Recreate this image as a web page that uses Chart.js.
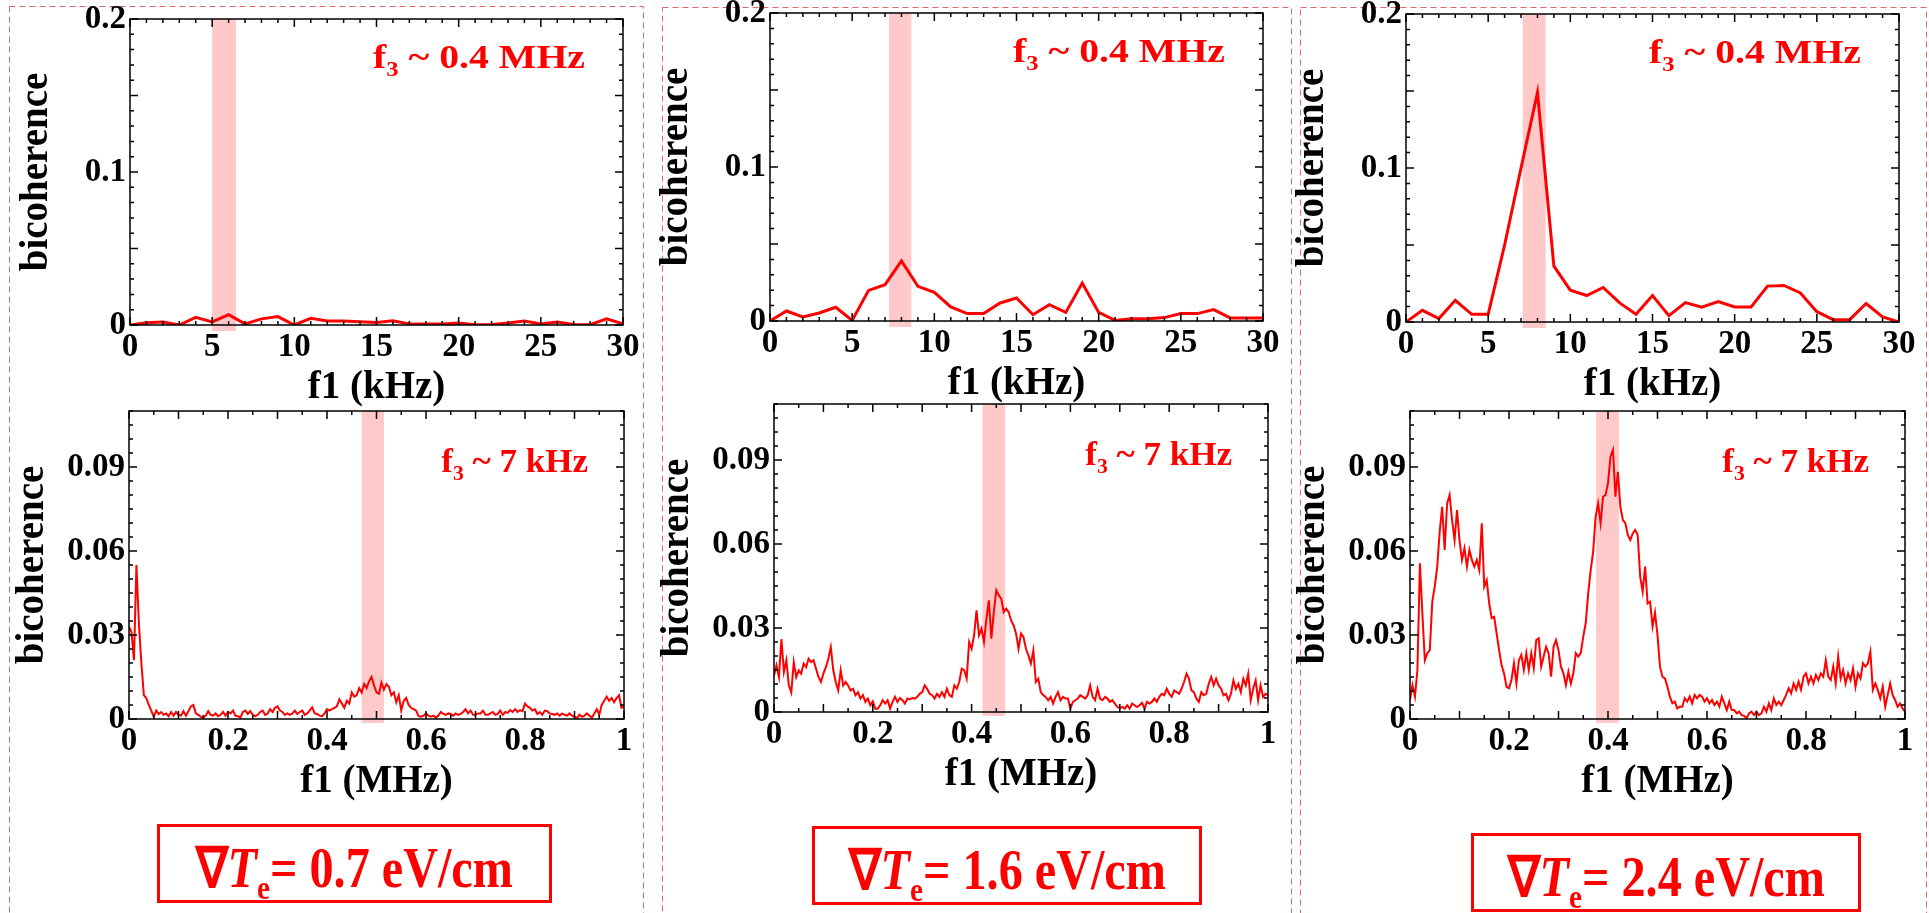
<!DOCTYPE html>
<html>
<head>
<meta charset="utf-8">
<script src="https://cdn.jsdelivr.net/npm/chart.js@4.4.1/dist/chart.umd.min.js"></script>
<style>
  body { margin: 0; background: #fff; width: 1929px; height: 913px; overflow: hidden; position: relative; font-family: "Liberation Serif", serif; }
  canvas.panel { position: absolute; }
  #frames { position: absolute; left: 0; top: 0; }
  .grad { position: absolute; box-sizing: border-box; border: 3px solid #f00; color: #f00; font-weight: bold; font-size: 56px;
          display: flex; align-items: center; justify-content: center; white-space: nowrap; padding-top: 8px; }
  .grad span { display: inline-block; transform: scaleX(0.86); line-height: 1; }
  .grad sub { font-size: 34px; vertical-align: baseline; position: relative; top: 12px; }
</style>
</head>
<body>
<canvas id="frames" width="1929" height="913"></canvas>
<script>
// f1 axes
const fKHz = [0, 1, 2, 3, 4, 5, 6, 7, 8, 9, 10, 11, 12, 13, 14, 15, 16, 17, 18, 19, 20, 21, 22, 23, 24, 25, 26, 27, 28, 29, 30];
const fMHz = Array.from({ length: 201 }, (_, i) => Math.round(i * 5) / 1000);

// bicoherence at f3 ~ 0.4 MHz
const b07Low = [0, 0.0015, 0.002, 0, 0.005, 0.002, 0.0068, 0.0007, 0.004, 0.0055, 0, 0.0044, 0.0026, 0.0026, 0.0022, 0.0017,
  0.0028, 0.0007, 0.0007, 0.0007, 0.0013, 0.0002, 0.0004, 0.0013, 0.0026, 0.0007, 0.002, 0.0004, 0.0002, 0.0041, 0.0007];
const b16Low = [0, 0.0065, 0.0026, 0.0052, 0.0089, 0.0004, 0.0199, 0.0236, 0.039, 0.0225, 0.0186, 0.0091, 0.0048, 0.0048, 0.0117, 0.0149,
  0.0041, 0.0106, 0.0056, 0.0247, 0.0056, 0.0004, 0.0015, 0.0015, 0.0022, 0.0048, 0.0048, 0.0074, 0.002, 0.002, 0.002];
const b24Low = [0, 0.0076, 0.0022, 0.0141, 0.005, 0.005, 0.05, 0.1, 0.149, 0.0363, 0.0207, 0.0172, 0.0224, 0.0124, 0.005, 0.0172,
  0.0041, 0.0126, 0.0096, 0.0133, 0.0098, 0.0098, 0.0233, 0.0237, 0.0189, 0.0067, 0.0015, 0.0015, 0.012, 0.0033, 0];

// bicoherence at f3 ~ 7 kHz (one row = 0.05 MHz)
const b07High = [
  0.033, 0.031, 0.021, 0.055, 0.034, 0.02, 0.0085, 0.0075, 0.005, 0.003,
  0.0008, 0.003, 0.0018, 0.0025, 0.0015, 0.002, 0.001, 0.0025, 0.0012, 0.0025,
  0.0015, 0.0012, 0.0028, 0.0012, 0.0028, 0.0045, 0.005, 0.002, 0.0015, 0.0008,
  0.0005, 0.0012, 0.0028, 0.0015, 0.0012, 0.002, 0.001, 0.0015, 0.0025, 0.0012,
  0.0025, 0.002, 0.003, 0.0012, 0.001, 0.0005, 0.0025, 0.003, 0.0018, 0.0028,
  0.0015, 0.001, 0.0015, 0.0025, 0.003, 0.0015, 0.002, 0.0035, 0.0025, 0.004,
  0.0045, 0.003, 0.0025, 0.0015, 0.002, 0.0015, 0.002, 0.003, 0.0018, 0.0025,
  0.003, 0.0015, 0.002, 0.003, 0.0042, 0.002, 0.0018, 0.0012, 0.001, 0.002,
  0.0035, 0.003, 0.0035, 0.004, 0.0045, 0.007, 0.0055, 0.004, 0.0065, 0.0055,
  0.0095, 0.008, 0.0085, 0.011, 0.0095, 0.0125, 0.011, 0.0135, 0.015, 0.012,
  0.0095, 0.009, 0.013, 0.0105, 0.0125, 0.0115, 0.0085, 0.0095, 0.006, 0.0085,
  0.003, 0.0065, 0.0075, 0.005, 0.004, 0.0035, 0.003, 0.001, 0.0008, 0.0012,
  0.002, 0.0012, 0.0008, 0.0012, 0.0005, 0.0012, 0.0025, 0.0018, 0.0015, 0.002,
  0.0018, 0.0012, 0.002, 0.0015, 0.0018, 0.0025, 0.0035, 0.002, 0.003, 0.0015,
  0.0015, 0.002, 0.002, 0.003, 0.0015, 0.0015, 0.002, 0.0025, 0.0015, 0.0018,
  0.003, 0.0015, 0.0025, 0.0022, 0.0032, 0.0025, 0.0035, 0.0025, 0.0032, 0.0028,
  0.0055, 0.0045, 0.004, 0.003, 0.0035, 0.0018, 0.0025, 0.0015, 0.003, 0.0028,
  0.002, 0.0018, 0.0015, 0.002, 0.0012, 0.002, 0.0015, 0.0012, 0.002, 0.0012,
  0.0008, 0.0003, 0.0015, 0.0008, 0.0012, 0.002, 0.0012, 0.0005, 0.002, 0.0035,
  0.0015, 0.005, 0.0065, 0.008, 0.0065, 0.0075, 0.006, 0.0075, 0.0085, 0.004,
  0.0045];
const b16High = [
  0.013, 0.0167, 0.0125, 0.026, 0.0143, 0.0185, 0.0095, 0.007, 0.0178, 0.0125,
  0.0149, 0.0137, 0.0173, 0.016, 0.019, 0.0178, 0.0185, 0.0155, 0.0125, 0.0107,
  0.0137, 0.016, 0.019, 0.0232, 0.0149, 0.0107, 0.0077, 0.0149, 0.0095, 0.0107,
  0.0095, 0.0077, 0.0083, 0.006, 0.0071, 0.0048, 0.006, 0.0036, 0.0048, 0.0024,
  0.0038, 0.0012, 0.0012, 0.0024, 0.0042, 0.003, 0.0042, 0.0012, 0.0036, 0.0054,
  0.0036, 0.005, 0.0042, 0.003, 0.0048, 0.0045, 0.005, 0.0048, 0.0054, 0.0065,
  0.0071, 0.0095, 0.0083, 0.0065, 0.006, 0.0048, 0.0065, 0.0054, 0.0071, 0.0054,
  0.0083, 0.006, 0.0054, 0.0095, 0.0083, 0.0107, 0.0155, 0.0149, 0.0119, 0.025,
  0.0226, 0.0274, 0.0363, 0.0274, 0.0298, 0.025, 0.0333, 0.0399, 0.0262, 0.0357,
  0.0435, 0.0417, 0.0405, 0.0357, 0.0369, 0.0357, 0.0327, 0.031, 0.028, 0.0226,
  0.028, 0.0268, 0.0226, 0.0202, 0.0173, 0.022, 0.0107, 0.0119, 0.0071, 0.006,
  0.0054, 0.0042, 0.0054, 0.003, 0.0054, 0.0071, 0.0042, 0.0054, 0.0048, 0.0048,
  0.0012, 0.0036, 0.0042, 0.0048, 0.006, 0.0054, 0.0048, 0.006, 0.0095, 0.0054,
  0.0042, 0.0083, 0.0048, 0.0042, 0.0054, 0.0048, 0.0036, 0.0042, 0.003, 0.0018,
  0.0014, 0.0018, 0.0012, 0.0024, 0.0012, 0.003, 0.0024, 0.0018, 0.0024, 0.0033,
  0.0012, 0.0036, 0.003, 0.0036, 0.0048, 0.0036, 0.0054, 0.0065, 0.006, 0.0083,
  0.0065, 0.0054, 0.0077, 0.0071, 0.0065, 0.0083, 0.0107, 0.0137, 0.0119, 0.0077,
  0.0071, 0.0048, 0.0036, 0.0071, 0.006, 0.0065, 0.0101, 0.0125, 0.0095, 0.0119,
  0.0095, 0.0083, 0.006, 0.0065, 0.0042, 0.0065, 0.0113, 0.0083, 0.0101, 0.0071,
  0.0119, 0.0095, 0.0137, 0.0042, 0.0083, 0.0113, 0.0042, 0.0095, 0.0054, 0.0065,
  0.006];
const b24High = [
  0.0068, 0.0121, 0.008, 0.0175, 0.0556, 0.0377, 0.021, 0.0235, 0.0246, 0.0419,
  0.0473, 0.0544, 0.0669, 0.0758, 0.0604, 0.077, 0.08, 0.0711, 0.0639, 0.0746,
  0.0639, 0.0568, 0.061, 0.0544, 0.0604, 0.0568, 0.0544, 0.0568, 0.0532, 0.0699,
  0.0473, 0.0496, 0.0413, 0.036, 0.0365, 0.0306, 0.0246, 0.0193, 0.0163, 0.0115,
  0.011, 0.0139, 0.0199, 0.0127, 0.021, 0.0229, 0.0175, 0.0235, 0.0175, 0.0235,
  0.0181, 0.0282, 0.0288, 0.0187, 0.0223, 0.0258, 0.0235, 0.0151, 0.0258, 0.0282,
  0.0246, 0.0187, 0.0163, 0.0121, 0.0169, 0.0127, 0.0163, 0.0235, 0.0223, 0.0235,
  0.0294, 0.0342, 0.0449, 0.0532, 0.0598, 0.0723, 0.077, 0.0699, 0.0794, 0.08,
  0.0842, 0.0937, 0.0961, 0.0794, 0.0883, 0.0758, 0.0711, 0.0699, 0.0657, 0.0639,
  0.0663, 0.0675, 0.0657, 0.0508, 0.0455, 0.0544, 0.0413, 0.0419, 0.033, 0.038,
  0.03, 0.0187, 0.0151, 0.0145, 0.0115, 0.008, 0.0056, 0.0062, 0.0038, 0.0044,
  0.0044, 0.0074, 0.0062, 0.008, 0.0056, 0.0086, 0.0074, 0.0086, 0.008, 0.0062,
  0.0074, 0.0056, 0.0068, 0.005, 0.0062, 0.0044, 0.008, 0.0056, 0.0032, 0.0062,
  0.0032, 0.0032, 0.002, 0.0026, 0.0014, 0.0011, 0.0002, 0.002, 0.0026, 0.0014,
  0.0026, 0.0014, 0.002, 0.0044, 0.0026, 0.0056, 0.0032, 0.0074, 0.005, 0.0062,
  0.005, 0.0068, 0.0086, 0.011, 0.0092, 0.0127, 0.0104, 0.0133, 0.0104, 0.0151,
  0.0163, 0.0127, 0.0151, 0.0127, 0.0157, 0.0139, 0.0163, 0.0151, 0.021, 0.0151,
  0.0139, 0.0187, 0.0127, 0.0223, 0.0145, 0.0175, 0.0127, 0.0163, 0.0139, 0.0181,
  0.0115, 0.0163, 0.0145, 0.0199, 0.0187, 0.0199, 0.024, 0.0104, 0.0127, 0.0104,
  0.0074, 0.0115, 0.0044, 0.0086, 0.0127, 0.0086, 0.0068, 0.0044, 0.0056, 0.0038,
  0.0026];

// shaded f3 windows
const bandLow = [[5.0, 6.45], [7.25, 8.6], [7.1, 8.5]];
const bandHigh = [[0.47, 0.515], [0.422, 0.468], [0.376, 0.422]];
// temperature gradient of each column (eV/cm)
const gradTe = ['0.7', '1.6', '2.4'];

const SERIF = '"Liberation Serif", "Times New Roman", serif';

function isMultiple(v, step) {
  const r = v / step;
  return Math.abs(r - Math.round(r)) < 1e-6;
}

// plot box with inward ticks on all four sides, the f3 band and the f3 label
const framePlugin = {
  id: 'frame',
  beforeDatasetsDraw(chart, args, o) {
    const { ctx, chartArea: a, scales: { x } } = chart;
    const x0 = x.getPixelForValue(o.band[0]);
    const x1 = x.getPixelForValue(o.band[1]);
    ctx.save();
    ctx.fillStyle = '#ffc9c9';
    ctx.fillRect(x0, a.top, x1 - x0, a.bottom - a.top + o.bandDrop);
    ctx.restore();
  },
  afterDatasetsDraw(chart, args, o) {
    const { ctx, chartArea: a, scales: { x, y } } = chart;
    ctx.save();
    ctx.strokeStyle = '#000';
    ctx.lineWidth = 1.5;
    ctx.strokeRect(a.left, a.top, a.right - a.left, a.bottom - a.top);
    ctx.beginPath();
    const nx = Math.round((x.max - x.min) / o.xMinor);
    for (let i = 0; i <= nx; i++) {
      const v = x.min + i * o.xMinor;
      const px = x.getPixelForValue(v);
      const len = isMultiple(v, o.xMajor) ? 8 : 4;
      ctx.moveTo(px, a.bottom); ctx.lineTo(px, a.bottom - len);
      ctx.moveTo(px, a.top); ctx.lineTo(px, a.top + len);
    }
    const ny = Math.round((y.max - y.min) / o.yMinor);
    for (let i = 0; i <= ny; i++) {
      const v = y.min + i * o.yMinor;
      const py = y.getPixelForValue(v);
      const len = isMultiple(v, o.yMajor) ? 8 : 4;
      ctx.moveTo(a.left, py); ctx.lineTo(a.left + len, py);
      ctx.moveTo(a.right, py); ctx.lineTo(a.right - len, py);
    }
    ctx.stroke();

    // "f3 ~ ..." with a subscript 3, right aligned, slightly widened
    const main = 'bold 34px ' + SERIF, sub = 'bold 21px ' + SERIF;
    ctx.fillStyle = '#f00';
    ctx.textBaseline = 'alphabetic';
    ctx.font = main;
    const wf = ctx.measureText('f').width;
    const wr = ctx.measureText(o.label).width;
    ctx.font = sub;
    const ws = ctx.measureText('3').width;
    const total = (wf + ws + wr) * o.labelStretch;
    ctx.translate(a.right - o.labelInset - total, a.top + o.labelDrop);
    ctx.scale(o.labelStretch, 1);
    ctx.font = main;
    ctx.fillText('f', 0, 0);
    ctx.font = sub;
    ctx.fillText('3', wf, 8);
    ctx.font = main;
    ctx.fillText(o.label, wf + ws, 0);
    ctx.restore();
  }
};

const YW = 130, TPAD = 30, RPAD = 30, XH = 90;

function makePanel(p) {
  const [L, T, R, B] = p.box;
  const cv = document.createElement('canvas');
  cv.className = 'panel';
  const w = R - L + YW + RPAD, h = B - T + TPAD + XH;
  cv.width = w; cv.height = h;
  cv.style.left = (L - YW) + 'px';
  cv.style.top = (T - TPAD) + 'px';
  cv.style.width = w + 'px';
  cv.style.height = h + 'px';
  document.body.appendChild(cv);

  new Chart(cv, {
    type: 'line',
    data: {
      datasets: [{
        data: p.x.map((f, i) => ({ x: f, y: p.y[i] })),
        borderColor: '#ff0000',
        borderWidth: p.lineWidth,
        pointRadius: 0,
        tension: 0
      }]
    },
    options: {
      responsive: false,
      animation: false,
      layout: { padding: { left: 0, top: TPAD, right: RPAD, bottom: 0 } },
      plugins: {
        legend: { display: false },
        tooltip: { enabled: false },
        frame: p.frame
      },
      scales: {
        x: {
          type: 'linear', min: p.xMin, max: p.xMax,
          grid: { display: false, drawTicks: false },
          border: { display: false },
          ticks: {
            stepSize: p.xStep, includeBounds: false, autoSkip: false, maxRotation: 0, padding: 3,
            color: '#000', font: { family: SERIF, size: 33, weight: 'bold' },
            callback: v => isMultiple(v, p.xStep) ? p.xFmt(v) : ''
          },
          title: { display: true, text: p.xTitle, color: '#000', font: { family: SERIF, size: 39, weight: 'bold' }, padding: { top: 0, bottom: 4 } },
          afterFit: s => { s.height = XH; }
        },
        y: {
          min: 0, max: p.yMax,
          grid: { display: false, drawTicks: false },
          border: { display: false },
          ticks: {
            stepSize: p.yStep, includeBounds: false, autoSkip: false, padding: 4,
            color: '#000', font: { family: SERIF, size: 33, weight: 'bold' },
            callback: v => isMultiple(v, p.yStep) ? p.yFmt(v) : ''
          },
          title: { display: true, text: 'bicoherence', color: '#000', font: { family: SERIF, size: 39, weight: 'bold' }, padding: { top: p.yTitlePad, bottom: 0 } },
          afterFit: s => { s.width = YW; }
        }
      }
    },
    plugins: [framePlugin]
  });
}

const kHzFmt = v => String(Math.round(v));
const MHzFmt = v => (isMultiple(v, 1) ? String(Math.round(v)) : v.toFixed(1));
const lowYFmt = v => (v === 0 ? '0' : v.toFixed(1));
const highYFmt = v => (Math.abs(v) < 1e-9 ? '0' : v.toFixed(2));

const lowBoxes = [[130, 19, 623, 325], [770, 13, 1263, 321], [1406, 14, 1899, 322]];
const highBoxes = [[129, 411, 624, 719], [774, 404, 1268, 712], [1410, 411, 1905, 719]];
const lowSeries = [b07Low, b16Low, b24Low];
const highSeries = [b07High, b16High, b24High];

for (let c = 0; c < 3; c++) {
  makePanel({
    box: lowBoxes[c], x: fKHz, y: lowSeries[c], lineWidth: 3,
    xMin: 0, xMax: 30, xStep: 5, xFmt: kHzFmt, xTitle: 'f1 (kHz)',
    yMax: 0.2, yStep: 0.1, yFmt: lowYFmt, yTitlePad: 14,
    frame: { band: bandLow[c], bandDrop: 6, xMinor: 1, xMajor: 5, yMinor: 0.01, yMajor: 0.05,
             label: ' ~ 0.4 MHz', labelStretch: 1.17, labelInset: 38, labelDrop: 49 }
  });
  makePanel({
    box: highBoxes[c], x: fMHz, y: highSeries[c], lineWidth: 2,
    xMin: 0, xMax: 1, xStep: 0.2, xFmt: MHzFmt, xTitle: 'f1 (MHz)',
    yMax: 0.11, yStep: 0.03, yFmt: highYFmt, yTitlePad: 11,
    frame: { band: bandHigh[c], bandDrop: 4, xMinor: 0.05, xMajor: 0.1, yMinor: 0.005, yMajor: 0.03,
             label: ' ~ 7 kHz', labelStretch: 1.03, labelInset: 36, labelDrop: 61 }
  });
}

// dashed outline around each column
const g = document.getElementById('frames').getContext('2d');
g.strokeStyle = '#dd6a6a';
g.lineWidth = 1;
g.setLineDash([6, 4]);
[[9, 6, 643], [662, 7, 1291], [1300, 7, 1926]].forEach(([l, t, r]) => {
  g.strokeRect(l + 0.5, t + 0.5, r - l, 940 - t);
});

// gradient captions under each column
const gradBoxes = [[157, 824, 395, 79], [812, 826, 390, 79], [1471, 833, 390, 79]];
gradTe.forEach((val, i) => {
  const [l, t, w, h] = gradBoxes[i];
  const d = document.createElement('div');
  d.className = 'grad';
  d.style.left = l + 'px'; d.style.top = t + 'px';
  d.style.width = w + 'px'; d.style.height = h + 'px';
  d.innerHTML = '<span>\u2207<i>T</i><sub>e</sub>= ' + val + ' eV/cm</span>';
  document.body.appendChild(d);
});
</script>
</body>
</html>
